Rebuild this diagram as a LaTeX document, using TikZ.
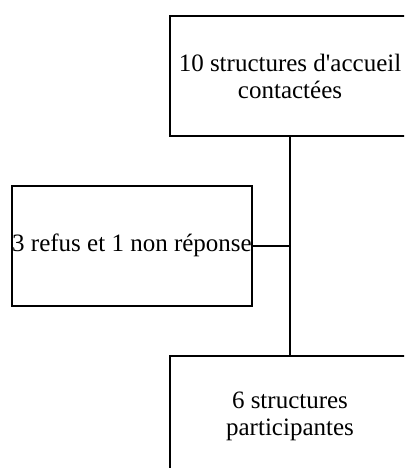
\documentclass[tikz,border=0pt]{standalone}
\usepackage{fontspec}
\setmainfont[Ligatures=TeXReset]{Liberation Serif}
\usepackage{tikz}
\usetikzlibrary{positioning}

\tikzset{etape/.style={draw,line width=2pt,minimum width=240pt,minimum height=120pt,
  align=center,font=\fontsize{25}{27}\selectfont,inner sep=0pt}}

\begin{document}
\begin{tikzpicture}[x=1pt,y=-1pt,line width=2pt] % Flowchart
  \useasboundingbox (0,0) rectangle (404,468);
  \clip (0,0) rectangle (404,468);
  \node[etape] (contact) at (290,76) {10 structures d'accueil\\contactées};
  \node[etape] (refus) at (132,245.5) {3 refus et 1 non réponse};
  \node[etape] (partic) at (290,416) {6 structures\\participantes};
  \coordinate (jonction) at (contact.south |- refus.east);
  \draw (contact.south) -- (partic.north);
  \draw (refus.east) -- (jonction);
\end{tikzpicture}
\end{document}
